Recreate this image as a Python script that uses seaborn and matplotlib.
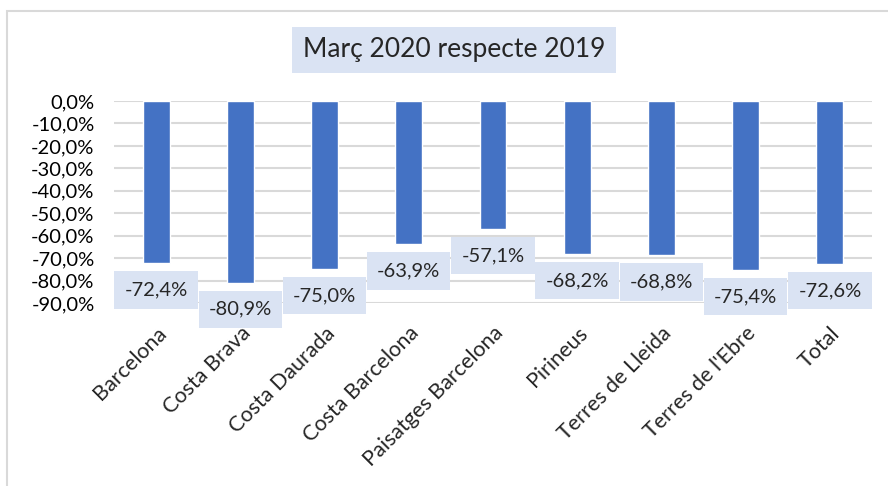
import numpy as np
import pandas as pd
import matplotlib
matplotlib.use("Agg")
import matplotlib.pyplot as plt
import seaborn as sns
from matplotlib.patches import Rectangle

# data
categories = ["Barcelona", "Costa Brava", "Costa Daurada", "Costa Barcelona",
              "Paisatges Barcelona", "Pirineus", "Terres de Lleida",
              "Terres de l'Ebre", "Total"]
values = [-72.4, -80.9, -75.0, -63.9, -57.1, -68.2, -68.8, -75.4, -72.6]
yticks = [0, -10, -20, -30, -40, -50, -60, -70, -80, -90]

BAR = "#4472C4"
BOX = "#DAE3F3"
GRID = "#D9D9D9"

sns.set_theme(style="white")
plt.rcParams["font.family"] = ["Lato", "DejaVu Sans"]

df = pd.DataFrame({"zona": categories, "valor": values})

fig = plt.figure(figsize=(8.88, 4.86), dpi=100)
ax = fig.add_axes([114 / 888, 1 - 303 / 486, (872 - 114) / 888, (303 - 101) / 486])

sns.barplot(data=df, x="zona", y="valor", color=BAR, saturation=1,
            width=0.32, ax=ax)

ax.set_ylim(-90, 0)
ax.set_yticks(yticks)
ax.set_yticklabels([f"{t:.1f}%".replace(".", ",") for t in yticks], fontsize=14.5)
ax.yaxis.grid(True, color=GRID, linewidth=1.5)
ax.set_axisbelow(True)
ax.tick_params(axis="y", length=0, pad=14, colors="black")
ax.tick_params(axis="x", length=0, pad=14.5)
for s in ax.spines.values():
    s.set_visible(False)

ax.set_xticks(range(len(categories)))
ax.set_xticklabels(categories, rotation=45, ha="right", rotation_mode="anchor",
                   fontsize=15.5)
ax.set_xlabel("")
ax.set_ylabel("")

labels = [f"{v:.1f}%".replace(".", ",") for v in values]
ax.bar_label(ax.containers[0], labels=labels, padding=13, fontsize=14.5,
             bbox=dict(boxstyle="square,pad=0.5", facecolor=BOX, edgecolor="none"))

fig.text(454 / 888, 1 - 50 / 486, "Març 2020 respecte 2019", fontsize=19,
         ha="center", va="center",
         bbox=dict(boxstyle="square,pad=0.4", facecolor=BOX, edgecolor="none"))

# chart frame
fig.patches.append(Rectangle((7 / 888, -0.1), 1.2, 1 - 11 / 486 + 0.1,
                             transform=fig.transFigure, fill=False,
                             edgecolor="#D9D9D9", linewidth=1.5))

fig.savefig("out.png", dpi=100)
